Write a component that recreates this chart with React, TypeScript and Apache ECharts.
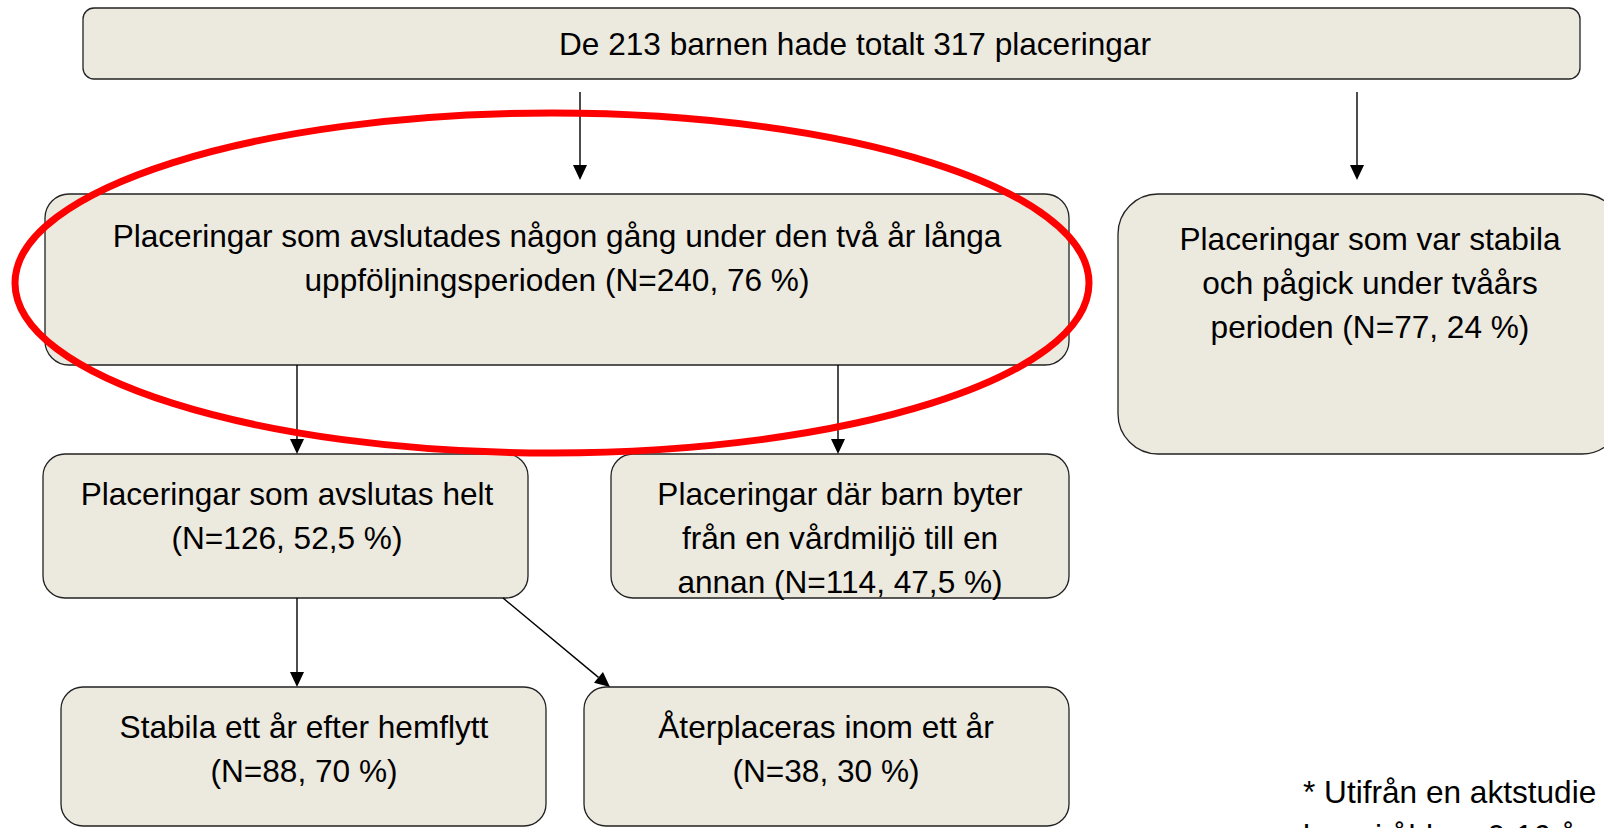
import React, { useEffect, useRef } from "react";
import * as echarts from "echarts";

// ---- content ----
const nodeNames = ["total", "avslutade", "stabila", "avslutasHelt", "byter", "hemflytt", "aterplaceras"];
const nodeTexts: string[][] = [
  ["De 213 barnen hade totalt 317 placeringar"],
  ["Placeringar som avslutades någon gång under den två år långa", "uppföljningsperioden (N=240, 76 %)"],
  ["Placeringar som var stabila", "och pågick under tvåårs", "perioden (N=77, 24 %)"],
  ["Placeringar som avslutas helt", "(N=126, 52,5 %)"],
  ["Placeringar där barn byter", "från en vårdmiljö till en", "annan (N=114, 47,5 %)"],
  ["Stabila ett år efter hemflytt", "(N=88, 70 %)"],
  ["Återplaceras inom ett år", "(N=38, 30 %)"],
];
const edgeFrom = [0, 0, 1, 1, 3, 3];
const edgeTo = [1, 2, 3, 4, 5, 6];
const footnoteLines = ["* Utifrån en aktstudie", "barn i åldern 0-16 år och"];
const highlightedNode = 1;

// ---- layout (positions / sizes) ----
// [x, y, width, height, radius]
const boxLayout = [
  [83, 8, 1497, 71, 11],
  [45, 194, 1024, 171, 24],
  [1118, 194, 504, 260, 40],
  [43, 454, 485, 144, 22],
  [611, 454, 458, 144, 22],
  [61, 687, 485, 139, 22],
  [584, 687, 485, 139, 22],
];
// [centerX, firstLineY]
const textLayout = [
  [855, 44],
  [557, 236],
  [1370, 239],
  [287, 494],
  [840, 494],
  [304, 727],
  [826, 727],
];
// [x1, y1, x2, y2]
const edgeLayout = [
  [580, 92, 580, 180],
  [1357, 92, 1357, 180],
  [297, 365, 297, 454],
  [838, 365, 838, 454],
  [297, 598, 297, 687],
  [503, 598, 610, 687],
];
const ellipseLayout = { cx: 552, cy: 283, rx: 537, ry: 170 };
const footnotePos = [1303, 792];
const LINE_GAP = 44;
const FONT = '31.6px "Liberation Sans", Arial, Helvetica, sans-serif';
const BOX_FILL = "#ECE9DF";
const BOX_STROKE = "#222222";

function buildGraphic() {
  const els: any[] = [];
  nodeNames.forEach((name, i) => {
    const [x, y, w, h, r] = boxLayout[i];
    els.push({
      type: "rect",
      id: "box-" + name,
      shape: { x, y, width: w, height: h, r },
      style: { fill: BOX_FILL, stroke: BOX_STROKE, lineWidth: 1.3 },
      z: 1,
    });
  });
  nodeNames.forEach((name, i) => {
    const [cx, y0] = textLayout[i];
    nodeTexts[i].forEach((line, j) => {
      els.push({
        type: "text",
        id: "txt-" + name + "-" + j,
        style: {
          text: line,
          x: cx,
          y: y0 + j * LINE_GAP,
          font: FONT,
          fill: "#000",
          align: "center",
          verticalAlign: "middle",
          textAlign: "center",
          textVerticalAlign: "middle",
        },
        z: 3,
      });
    });
  });
  edgeFrom.forEach((f, k) => {
    const [x1, y1, x2, y2] = edgeLayout[k];
    const dx = x2 - x1;
    const dy = y2 - y1;
    const len = Math.sqrt(dx * dx + dy * dy);
    const ux = dx / len;
    const uy = dy / len;
    const headLen = 15;
    const headHalf = 7;
    const bx = x2 - ux * headLen;
    const by = y2 - uy * headLen;
    els.push({
      type: "line",
      id: "edge-" + f + "-" + edgeTo[k],
      shape: { x1, y1, x2: bx, y2: by },
      style: { stroke: "#000", lineWidth: 1.4 },
      z: 2,
    });
    els.push({
      type: "polygon",
      id: "head-" + f + "-" + edgeTo[k],
      shape: {
        points: [
          [x2, y2],
          [bx - uy * headHalf, by + ux * headHalf],
          [bx + uy * headHalf, by - ux * headHalf],
        ],
      },
      style: { fill: "#000" },
      z: 2,
    });
  });
  els.push({
    type: "ellipse",
    id: "highlight-" + nodeNames[highlightedNode],
    shape: { ...ellipseLayout },
    style: { fill: "none", stroke: "#FF0000", lineWidth: 7 },
    z: 5,
  });
  footnoteLines.forEach((line, j) => {
    els.push({
      type: "text",
      id: "foot-" + j,
      style: {
        text: line,
        x: footnotePos[0],
        y: footnotePos[1] + j * LINE_GAP,
        font: FONT,
        fill: "#000",
        align: "left",
        verticalAlign: "middle",
        textAlign: "left",
        textVerticalAlign: "middle",
      },
      z: 3,
    });
  });
  return els;
}

export default function App() {
  const ref = useRef<HTMLDivElement>(null);
  useEffect(() => {
    if (!ref.current) return;
    const chart = echarts.init(ref.current, undefined, { renderer: "svg" });
    chart.setOption({
      animation: false,
      backgroundColor: "#FFFFFF",
      graphic: buildGraphic(),
    });
    return () => chart.dispose();
  }, []);
  return (
    <div
      ref={ref}
      style={{ position: "absolute", left: 0, top: 0, width: 1604, height: 828, overflow: "hidden" }}
    />
  );
}
